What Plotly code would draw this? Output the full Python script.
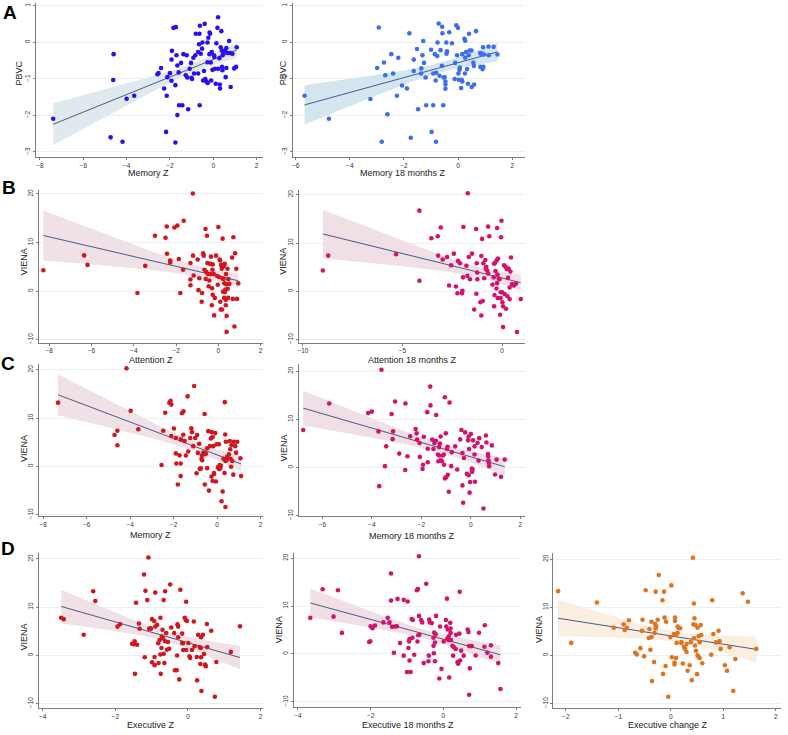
import numpy as np
import plotly.graph_objects as go

# ---- data: (z score, outcome) pairs per panel ----
a_mem = [(-7.39,-2.09),(-4.6,-0.32),(-4.62,-1.03),(-4.74,-2.6),(-4.19,-2.72),(-4.0,-1.54),(-3.65,-1.46),(-2.41,-0.7),(-2.58,-0.87),(-2.53,-0.84),
         (-2.27,-1.26),(-2.15,-1.46),(-2.18,-2.45),(-1.75,-2.74),(-2.12,-0.95),(-2.0,-0.84),(-1.93,-1.05),(-1.93,-0.47),(-1.91,-0.23),(-1.84,0.4),
         (-1.73,0.42),(-1.75,-1.17),(-1.7,-0.35),(-1.66,-1.99),(-1.6,-0.82),(-1.66,-0.63),(-1.58,-1.72),(-1.43,-1.72),(-1.49,-0.56),(-1.38,-0.32),
         (-1.27,-0.9),(-1.23,-0.35),(-1.2,-0.96),(-1.16,-1.83),(-1.09,-0.72),(-1.03,-0.56),(-1.01,-0.97),(-0.98,-1.0),(-0.92,-0.42),(-0.89,-0.85),
         (-0.83,-0.35),(-0.81,0.24),(-0.7,-0.26),(-0.7,-0.85),(-0.66,-0.05),(-0.64,0.24),(-0.62,0.46),(-0.63,-1.72),(-0.58,-0.31),(-0.52,-0.17),
         (-0.5,0.0),(-0.47,-1.04),(-0.43,-0.78),(-0.4,0.51),(-0.37,-1.0),(-0.32,-1.07),(-0.27,0.0),(-0.27,-0.54),(-0.26,-1.11),(-0.23,0.13),
         (-0.18,-0.32),(-0.17,0.27),(-0.12,-0.55),(-0.15,0.24),(-0.1,-1.04),(-0.07,-0.26),(-0.04,-0.75),(0.03,-0.35),(0.05,-0.4),(0.08,-0.72),
         (0.11,-1.13),(0.14,-0.02),(0.19,0.4),(0.22,0.69),(0.22,-0.72),(0.28,-0.43),(0.3,-1.15),(0.31,-1.26),(0.34,-0.13),(0.37,0.31),
         (0.39,-0.22),(0.4,-0.67),(0.43,-0.35),(0.42,-0.76),(0.46,-0.27),(0.53,-0.22),(0.57,-0.95),(0.6,-0.7),(0.6,-0.15),(0.65,-0.29),
         (0.73,0.04),(0.77,-0.29),(0.8,-1.22),(0.88,-0.31),(0.96,-0.71),(1.08,-0.13),(1.05,-0.67)]

a_mem18 = [(-5.67,-1.46),(-4.77,-2.09),(-2.93,0.41),(-2.99,-0.7),(-2.82,-2.72),(-3.24,-1.55),(-2.74,-0.55),(-2.69,-0.9),(-2.61,-1.97),(-2.47,-0.32),
           (-2.4,-0.85),(-2.26,-1.46),(-2.21,-0.42),(-2.07,-1.18),(-1.89,-1.26),(-1.8,0.25),(-1.75,-2.61),(-1.64,-0.47),(-1.64,-0.78),(-1.52,-0.18),
           (-1.48,-1.83),(-1.37,-0.85),(-1.36,-0.71),(-1.32,-0.35),(-1.29,0.04),(-1.26,-0.56),(-1.2,-0.96),(-1.18,-1.72),(-1.0,-0.2),(-0.98,-2.45),
           (-0.92,-1.72),(-0.92,-0.85),(-0.86,-0.32),(-0.83,-1.04),(-0.81,-0.83),(-0.82,-2.72),(-0.77,-0.37),(-0.76,0.0),(-0.72,0.52),(-0.69,-0.91),
           (-0.65,-0.21),(-0.6,-0.64),(-0.59,0.43),(-0.58,0.25),(-0.54,-0.96),(-0.55,-1.72),(-0.5,-0.95),(-0.47,-1.07),(-0.47,-1.15),(-0.47,-1.27),
           (-0.44,0.0),(-0.43,-0.31),(-0.41,-0.24),(-0.33,0.28),(-0.23,-0.02),(-0.13,-1.0),(-0.11,-0.56),(-0.07,0.47),(-0.04,-0.35),(-0.01,0.4),
           (0.01,-0.85),(0.02,-1.02),(0.05,-0.75),(0.06,-0.69),(0.11,-1.25),(0.13,-1.02),(0.15,-1.07),(0.15,-0.32),(0.23,0.1),(0.25,-0.85),
           (0.26,0.05),(0.26,-0.42),(0.29,-0.26),(0.33,-0.73),(0.36,-1.13),(0.39,-0.35),(0.4,0.24),(0.42,-0.22),(0.49,-0.22),(0.5,-1.22),
           (0.56,-0.55),(0.58,-0.64),(0.59,-1.15),(0.66,0.31),(0.81,-0.29),(0.85,-0.33),(0.82,-0.67),(0.87,-0.3),(0.9,-0.73),(0.92,-0.13),
           (0.93,-0.67),(0.96,-0.33),(1.12,-0.11),(1.13,-0.35),(1.31,-0.12),(1.45,-0.33)]

b_att = [(-8.28,4.3),(-6.35,7.35),(-6.19,5.4),(-3.83,-0.4),(-3.46,5.2),(-3.0,11.4),(-2.5,11.0),(-2.44,13.3),(-2.43,7.7),(-2.28,6.3),
         (-2.28,5.9),(-2.08,13.1),(-1.94,13.5),(-1.87,6.6),(-1.8,-0.4),(-1.67,4.4),(-1.64,14.5),(-1.32,1.2),(-1.32,2.4),(-1.32,5.8),
         (-1.21,20.1),(-1.2,7.3),(-1.17,3.2),(-0.98,6.5),(-0.94,0.2),(-0.9,2.65),(-0.79,-2.2),(-0.77,-0.4),(-0.72,7.8),(-0.69,7.3),
         (-0.66,4.4),(-0.61,12.8),(-0.6,2.5),(-0.57,3.9),(-0.54,11.4),(-0.52,5.8),(-0.49,3.5),(-0.46,1.0),(-0.43,2.2),(-0.39,5.6),
         (-0.38,3.5),(-0.35,7.1),(-0.31,-2.9),(-0.3,0.6),(-0.28,4.4),(-0.27,-0.75),(-0.27,5.5),(-0.22,3.5),(-0.2,-5.0),(-0.17,-1.4),
         (-0.11,7.3),(-0.06,3.1),(-0.03,1.3),(0.0,13.2),(0.03,2.9),(0.06,6.5),(0.08,6.3),(0.09,-2.2),(0.11,-3.8),(0.13,5.4),
         (0.16,4.6),(0.17,-3.8),(0.19,2.65),(0.2,10.8),(0.22,-0.1),(0.24,2.5),(0.25,5.1),(0.27,-1.4),(0.28,1.6),(0.3,5.6),
         (0.31,-0.2),(0.33,0.3),(0.35,-1.8),(0.35,-2.9),(0.36,3.5),(0.38,1.4),(0.39,-5.1),(0.39,-8.4),(0.43,4.6),(0.44,0.5),
         (0.46,-1.4),(0.47,2.5),(0.52,1.5),(0.65,6.9),(0.68,-1.6),(0.71,11.1),(0.76,-7.3),(0.79,7.8),(0.85,4.6),(0.88,-1.6),(0.94,1.6)]

b_att18 = [(-9.0,4.3),(-8.73,7.4),(-5.32,7.7),(-4.15,16.7),(-4.15,2.2),(-3.55,11.0),(-3.23,11.4),(-3.08,13.2),(-3.21,7.4),(-2.98,6.6),
           (-2.76,7.1),(-2.66,1.2),(-2.56,5.4),(-2.42,7.8),(-2.32,1.0),(-2.24,-0.4),(-2.21,6.3),(-2.11,5.8),(-2.01,-0.4),(-1.99,0.1),
           (-1.94,13.3),(-1.96,2.9),(-1.79,5.3),(-1.74,3.2),(-1.72,20.3),(-1.67,7.1),(-1.61,2.5),(-1.51,7.8),(-1.4,-3.75),(-1.3,12.9),
           (-1.29,-0.5),(-1.27,5.8),(-1.24,2.5),(-1.25,3.9),(-1.09,-2.25),(-1.04,7.3),(-1.04,-5.0),(-1.0,10.85),(-0.97,-2.0),(-0.94,5.8),
           (-0.9,2.7),(-0.84,6.5),(-0.82,4.7),(-0.79,5.1),(-0.75,4.3),(-0.7,13.4),(-0.7,3.7),(-0.64,11.4),(-0.48,1.4),(-0.42,2.9),
           (-0.4,5.7),(-0.4,-3.1),(-0.38,-0.75),(-0.35,5.9),(-0.33,4.2),(-0.28,0.6),(-0.27,6.4),(-0.25,1.7),(-0.25,13.1),(-0.23,3.5),
           (-0.22,-1.4),(-0.2,6.8),(-0.17,2.65),(-0.13,2.5),(-0.1,-4.85),(-0.07,-1.4),(-0.03,14.6),(-0.05,11.2),(-0.07,-0.2),(0.0,-0.2),
           (0.02,-2.25),(0.05,-3.1),(0.1,5.4),(0.13,-0.55),(0.17,5.1),(0.2,-3.6),(0.23,4.6),(0.27,-1.0),(0.3,2.8),(0.33,4.7),
           (0.38,0.8),(0.38,-1.6),(0.42,4.1),(0.45,7.0),(0.5,1.5),(0.59,1.2),(0.7,1.6),(0.75,-8.4),(0.94,-1.6),(0.05,-7.4)]

c_mem = [(-7.32,13.2),(-4.72,6.5),(-4.59,7.4),(-4.59,4.4),(-4.17,20.3),(-3.98,11.5),(-3.63,7.7),(-2.56,0.3),(-2.48,7.4),(-2.39,11.1),
         (-2.2,13.2),(-2.14,13.6),(-2.11,12.8),(-2.11,6.3),(-1.99,7.85),(-1.9,5.9),(-1.9,2.7),(-1.88,0.6),(-1.81,-3.75),(-1.73,2.3),
         (-1.68,0.6),(-1.68,-2.0),(-1.67,5.6),(-1.62,11.0),(-1.56,6.55),(-1.55,11.4),(-1.5,5.25),(-1.44,2.25),(-1.36,14.5),(-1.33,3.1),
         (-1.24,5.9),(-1.19,7.9),(-1.16,7.1),(-1.1,4.2),(-1.06,16.65),(-1.01,5.9),(-0.95,-1.4),(-0.92,6.5),(-0.89,2.8),(-0.83,4.7),
         (-0.8,-0.5),(-0.75,-0.4),(-0.72,1.6),(-0.7,2.3),(-0.69,1.3),(-0.63,2.9),(-0.61,2.5),(-0.58,10.85),(-0.57,-3.75),(-0.52,2.65),
         (-0.46,3.75),(-0.46,-0.35),(-0.41,7.3),(-0.38,-5.0),(-0.34,4.2),(-0.29,5.8),(-0.26,-2.1),(-0.25,7.1),(-0.21,6.1),(-0.21,-3.0),
         (-0.18,4.2),(-0.15,-1.35),(-0.14,-1.55),(-0.09,6.9),(-0.06,-3.1),(-0.03,4.6),(0.03,-0.2),(0.08,4.6),(0.09,-0.55),(0.12,0.3),
         (0.14,-0.35),(0.17,0.15),(0.2,-7.2),(0.25,-5.2),(0.29,1.6),(0.34,-1.35),(0.35,13.3),(0.37,6.6),(0.38,1.15),(0.4,5.1),
         (0.43,1.3),(0.46,2.0),(0.54,2.5),(0.58,5.25),(0.6,3.55),(0.61,1.6),(0.64,-0.05),(0.66,4.45),(0.69,1.15),(0.74,-1.7),
         (0.77,5.1),(0.83,4.2),(0.87,2.85),(0.92,5.1),(1.07,1.7),(1.1,-2.0),(0.38,-8.4)]

c_mem18 = [(-6.77,7.8),(-5.72,13.3),(-4.15,11.3),(-4.0,11.6),(-3.73,7.5),(-3.7,-3.85),(-3.61,20.3),(-3.47,0.3),(-3.42,4.4),(-3.2,11.1),
           (-3.16,5.9),(-3.14,7.5),(-3.06,13.7),(-2.89,2.9),(-2.65,-0.5),(-2.64,13.3),(-2.56,2.35),(-2.45,6.5),(-2.23,8.0),(-2.19,7.1),
           (-2.17,5.8),(-2.07,5.1),(-2.06,2.2),(-1.95,-0.3),(-1.93,0.6),(-1.9,6.4),(-1.76,11.5),(-1.74,1.1),(-1.74,3.9),(-1.64,16.8),
           (-1.63,12.9),(-1.56,5.8),(-1.51,3.85),(-1.47,5.1),(-1.41,5.55),(-1.4,10.9),(-1.33,2.7),(-1.31,1.3),(-1.28,4.25),(-1.28,2.5),
           (-1.25,5.0),(-1.22,6.45),(-1.21,1.5),(-1.17,1.3),(-1.13,2.5),(-1.09,2.7),(-1.08,0.6),(-1.05,14.6),(-1.05,-2.25),(-1.01,7.1),
           (-1.0,-2.0),(-0.96,3.85),(-0.94,4.3),(-0.93,-1.5),(-0.89,-5.0),(-0.86,13.5),(-0.79,0.3),(-0.77,3.2),(-0.63,4.4),(-0.55,-0.4),
           (-0.43,5.85),(-0.38,7.8),(-0.34,3.0),(-0.34,-3.7),(-0.28,2.0),(-0.23,7.3),(-0.16,-1.3),(-0.11,5.65),(-0.09,6.45),(-0.09,-1.6),
           (-0.07,3.85),(-0.05,-5.2),(-0.03,-3.0),(0.0,6.95),(0.04,-0.2),(0.05,-0.9),(0.07,-0.4),(0.09,5.65),(0.15,2.7),(0.15,4.4),
           (0.17,-2.95),(0.27,5.1),(0.31,1.45),(0.34,6.1),(0.44,4.25),(0.61,6.65),(0.63,5.2),(0.69,2.8),(0.7,2.35),(0.71,1.5),
           (0.73,1.0),(0.74,0.3),(0.85,4.6),(0.98,-1.45),(1.04,1.65),(1.22,-1.9),(1.37,1.65),(-0.31,-7.3),(0.51,-8.5)]

d_exe = [(-3.49,7.8),(-3.42,7.5),(-2.87,4.25),(-2.61,13.3),(-2.55,11.25),(-1.94,5.95),(-1.87,6.45),(-1.54,2.4),(-1.49,2.3),(-1.47,2.9),
         (-1.46,-3.85),(-1.43,10.9),(-1.4,2.2),(-1.35,6.6),(-1.33,5.5),(-1.21,16.75),(-1.19,-0.4),(-1.17,13.4),(-1.12,11.45),(-1.09,20.3),
         (-1.07,5.5),(-1.03,5.6),(-1.02,5.5),(-0.99,7.5),(-0.99,-1.45),(-0.93,7.1),(-0.92,-0.35),(-0.92,-2.05),(-0.9,13.0),(-0.9,5.95),
         (-0.85,6.3),(-0.82,2.5),(-0.81,-1.6),(-0.78,3.15),(-0.76,7.8),(-0.76,0.15),(-0.75,-3.85),(-0.73,1.5),(-0.72,3.9),(-0.7,5.3),
         (-0.69,3.55),(-0.67,11.45),(-0.67,0.3),(-0.65,-1.6),(-0.63,2.9),(-0.63,13.3),(-0.6,4.6),(-0.58,1.15),(-0.55,2.75),(-0.52,1.35),
         (-0.49,14.7),(-0.46,5.75),(-0.38,4.6),(-0.36,-3.1),(-0.31,-3.1),(-0.3,-0.05),(-0.29,6.45),(-0.27,5.95),(-0.27,3.75),(-0.24,-5.0),
         (-0.21,13.6),(-0.16,4.5),(-0.16,2.55),(-0.14,2.5),(-0.13,1.1),(-0.09,7.8),(-0.06,7.3),(-0.05,11.1),(-0.05,1.1),(-0.03,7.1),
         (0.01,2.55),(0.04,-0.2),(0.06,-0.55),(0.11,1.1),(0.16,7.0),(0.18,1.85),(0.24,-0.35),(0.25,-5.2),(0.28,4.25),(0.32,1.7),
         (0.34,-1.8),(0.35,1.5),(0.36,3.75),(0.36,-0.4),(0.37,-7.4),(0.41,4.25),(0.44,0.27),(0.47,-1.9),(0.49,-2.25),(0.52,6.5),
         (0.53,1.7),(0.64,5.1),(0.74,-8.6),(0.78,-1.4),(1.18,0.7),(1.43,6.0)]

d_exe18 = [(-3.66,7.55),(-3.32,13.5),(-3.02,7.8),(-2.9,13.3),(-2.79,4.4),(-2.04,2.5),(-2.0,5.8),(-2.01,2.65),(-1.95,5.4),(-1.88,5.95),
           (-1.65,6.6),(-1.53,7.55),(-1.48,6.6),(-1.44,16.8),(-1.44,11.15),(-1.41,5.7),(-1.36,0.27),(-1.33,5.75),(-1.26,11.5),(-1.28,5.8),
           (-1.19,2.3),(-1.09,11.3),(-1.09,-0.35),(-1.0,-3.75),(-0.98,10.95),(-0.96,1.25),(-0.94,2.6),(-0.93,3.1),(-0.93,-1.35),(-0.9,-3.75),
           (-0.87,7.3),(-0.85,3.4),(-0.84,7.1),(-0.8,-0.15),(-0.73,13.3),(-0.7,13.55),(-0.71,2.6),(-0.69,3.9),(-0.67,20.4),(-0.67,7.95),
           (-0.66,4.0),(-0.61,7.1),(-0.58,6.6),(-0.54,-1.9),(-0.47,14.65),(-0.41,-1.5),(-0.4,-0.35),(-0.39,7.2),(-0.37,6.6),(-0.32,6.45),
           (-0.27,3.4),(-0.27,1.7),(-0.26,0.15),(-0.25,4.5),(-0.23,2.4),(-0.23,-1.5),(-0.21,4.1),(-0.2,7.95),(-0.11,-5.1),(-0.09,5.75),
           (-0.05,-3.1),(0.01,2.6),(0.07,7.1),(0.08,5.75),(0.1,11.55),(0.11,3.2),(0.12,5.1),(0.14,2.9),(0.15,3.7),(0.16,-4.9),
           (0.19,6.5),(0.2,5.3),(0.2,4.4),(0.21,2.9),(0.25,1.7),(0.27,-0.35),(0.29,1.4),(0.34,1.05),(0.35,4.0),(0.39,-1.7),
           (0.41,-2.05),(0.44,4.25),(0.45,13.0),(0.46,-1.35),(0.49,0.7),(0.56,-0.35),(0.67,5.1),(0.69,4.6),(0.71,1.65),(0.71,-8.5),
           (0.78,1.65),(0.73,-3.0),(0.89,-0.3),(0.98,4.45),(1.13,1.5),(1.14,6.0),(1.21,0.27),(1.31,1.8),(1.31,-0.55),(1.51,-1.9),(1.57,-7.3)]

d_exechg = [(-2.15,13.35),(-1.9,2.6),(-1.41,11.0),(-1.09,5.75),(-0.9,6.45),(-0.88,5.3),(-0.84,5.75),(-0.8,7.3),(-0.68,0.55),(-0.65,0.2),
            (-0.58,1.5),(-0.55,5.1),(-0.54,7.4),(-0.51,-0.2),(-0.48,13.55),(-0.42,3.6),(-0.41,5.5),(-0.39,1.15),(-0.37,7.0),(-0.37,3.8),
            (-0.36,-5.35),(-0.32,-1.4),(-0.31,4.65),(-0.3,6.5),(-0.29,13.25),(-0.29,5.6),(-0.28,6.05),(-0.25,7.4),(-0.23,16.7),(-0.16,11.45),
            (-0.15,-3.85),(-0.13,13.25),(-0.12,7.85),(-0.1,-2.2),(-0.09,7.0),(-0.05,-8.6),(-0.01,3.8),(0.01,14.55),(0.02,-0.4),(0.06,4.45),
            (0.07,-1.5),(0.07,-1.9),(0.08,7.85),(0.08,7.15),(0.1,-0.55),(0.1,4.35),(0.11,2.6),(0.13,4.65),(0.13,6.0),(0.15,5.65),
            (0.18,5.65),(0.2,2.75),(0.2,2.6),(0.23,-1.7),(0.25,1.8),(0.27,1.35),(0.3,2.35),(0.3,0.7),(0.32,-3.2),(0.36,-2.05),
            (0.38,2.75),(0.4,-5.15),(0.42,20.3),(0.43,6.45),(0.44,3.55),(0.44,10.8),(0.45,7.7),(0.46,2.05),(0.47,6.3),(0.48,0.95),
            (0.5,-3.9),(0.51,5.75),(0.51,0.0),(0.53,4.0),(0.53,-0.35),(0.55,-0.55),(0.55,2.75),(0.57,6.3),(0.58,4.25),(0.6,-1.65),
            (0.77,0.15),(0.79,11.45),(0.81,4.45),(0.86,2.7),(0.91,5.1),(0.93,3.0),(0.95,1.35),(1.03,-2.05),(1.07,-3.2),(1.12,1.7),
            (1.19,-7.4),(1.23,-0.75),(1.37,12.9),(1.47,11.15),(1.63,1.35)]

FONT = "Liberation Sans, Arial, sans-serif"
W, H = 788, 735
LINE = "#4b5b86"
AXIS = "#7d7d7d"
GRID = "#e9eff3"

# box = (left, right, top, bottom) in pixels, cal = (v1, px1, v2, px2)
panels = [
    dict(pts=a_mem, mk="#2a10ee", band="#dfe9ee", box=(35, 262, 2, 157), xcal=(-8, 39, 2, 256), ycal=(1, 5, -3, 152),
         xt=[-8, -6, -4, -2, 0, 2], yt=[-3, -2, -1, 0, 1], xtitle="Memory Z", ytitle="PBVC", xpos=(148, 173), ypos=(18, 72)),
    dict(pts=a_mem18, mk="#3c6ef0", band="#d3e5ef", box=(292, 525, 2, 157), xcal=(-6, 295, 2, 512), ycal=(1, 5, -3, 152),
         xt=[-6, -4, -2, 0, 2], yt=[-3, -2, -1, 0, 1], xtitle="Memory 18 months Z", ytitle="PBVC", xpos=(403, 173), ypos=(282, 72)),
    dict(pts=b_att, mk="#d0161f", band="#efe1e5", box=(38, 262, 190, 344), xcal=(-8, 48.3, 2, 260), ycal=(20, 194.3, -10, 341),
         xt=[-8, -6, -4, -2, 0, 2], yt=[-10, 0, 10, 20], xtitle="Attention Z", ytitle="VIENA", xpos=(150, 361), ypos=(23, 262)),
    dict(pts=b_att18, mk="#d3126c", band="#f1dfe6", box=(298, 525, 190, 344), xcal=(-10, 302.3, 0, 501.7), ycal=(20, 195, -10, 341),
         xt=[-10, -5, 0], yt=[-10, 0, 10, 20], xtitle="Attention 18 months Z", ytitle="VIENA", xpos=(412, 361), ypos=(283, 262)),
    dict(pts=c_mem, mk="#d0161f", band="#efe1e5", box=(38, 262, 365, 519), xcal=(-8, 42.3, 2, 260), ycal=(20, 371.3, -10, 517.3),
         xt=[-8, -6, -4, -2, 0, 2], yt=[-10, 0, 10, 20], xtitle="Memory Z", ytitle="VIENA", xpos=(150, 538), ypos=(23, 450)),
    dict(pts=c_mem18, mk="#d3126c", band="#f1dfe6", box=(298, 525, 365, 519), xcal=(-6, 321.7, 2, 520), ycal=(20, 372.7, -10, 518.3),
         xt=[-6, -4, -2, 0, 2], yt=[-10, 0, 10, 20], xtitle="Memory 18 months Z", ytitle="VIENA", xpos=(412, 539), ypos=(283, 450)),
    dict(pts=d_exe, mk="#d0161f", band="#efe1e5", box=(38, 262, 556, 712), xcal=(-4, 41.7, 2, 260), ycal=(20, 561.7, -10, 707.3),
         xt=[-4, -2, 0, 2], yt=[-10, 0, 10, 20], xtitle="Executive Z", ytitle="VIENA", xpos=(150, 729), ypos=(23, 640)),
    dict(pts=d_exe18, mk="#d3126c", band="#f1dfe6", box=(293, 521, 556, 711), xcal=(-4, 297.3, 2, 515.7), ycal=(20, 561, -10, 705.7),
         xt=[-4, -2, 0, 2], yt=[-10, 0, 10, 20], xtitle="Executive 18 months Z", ytitle="VIENA", xpos=(408, 729), ypos=(278, 633)),
    dict(pts=d_exechg, mk="#e1731f", band="#f9eee0", box=(553, 781, 556, 712), xcal=(-2, 565.7, 2, 775.7), ycal=(20, 562, -10, 707.3),
         xt=[-2, -1, 0, 1, 2], yt=[-10, 0, 10, 20], xtitle="Executive change Z", ytitle="VIENA", xpos=(668, 729), ypos=(538, 633)),
]


def px_to_val(p, cal):
    v1, p1, v2, p2 = cal
    return v1 + (p - p1) * (v2 - v1) / (p2 - p1)


fig = go.Figure()
annotations = []
layout = {}

for i, pn in enumerate(panels, start=1):
    xs = np.array([p[0] for p in pn["pts"]])
    ys = np.array([p[1] for p in pn["pts"]])
    n = len(xs)
    # linear fit with 95% CI (as Stata lfitci)
    b, a = np.polyfit(xs, ys, 1)
    resid = ys - (a + b * xs)
    s = np.sqrt(np.sum(resid ** 2) / (n - 2))
    sxx = np.sum((xs - xs.mean()) ** 2)
    gx = np.linspace(xs.min(), xs.max(), 80)
    gy = a + b * gx
    se = s * np.sqrt(1.0 / n + (gx - xs.mean()) ** 2 / sxx)
    up, lo = gy + 1.984 * se, gy - 1.984 * se

    xa, ya = f"x{i}", f"y{i}"
    fig.add_trace(go.Scatter(x=np.concatenate([gx, gx[::-1]]), y=np.concatenate([up, lo[::-1]]),
                             fill="toself", fillcolor=pn["band"], line=dict(width=0), mode="lines",
                             hoverinfo="skip", xaxis=xa, yaxis=ya))
    fig.add_trace(go.Scatter(x=gx, y=gy, mode="lines", line=dict(color=LINE, width=1), xaxis=xa, yaxis=ya))
    fig.add_trace(go.Scatter(x=xs, y=ys, mode="markers", marker=dict(color=pn["mk"], size=4.6), xaxis=xa, yaxis=ya))

    l, r, t, btm = pn["box"]
    xr = [px_to_val(l, pn["xcal"]), px_to_val(r, pn["xcal"])]
    yr = [px_to_val(btm, pn["ycal"]), px_to_val(t, pn["ycal"])]
    sfx = "" if i == 1 else str(i)
    layout["xaxis" + sfx] = dict(domain=[l / W, r / W], range=xr, anchor=ya, tickvals=pn["xt"],
                                 showline=True, linecolor=AXIS, linewidth=1, ticks="outside", ticklen=2,
                                 tickcolor=AXIS, tickfont=dict(size=6.5, color="#333"), showgrid=False,
                                 zeroline=False)
    layout["yaxis" + sfx] = dict(domain=[1 - btm / H, 1 - t / H], range=yr, anchor=xa, tickvals=pn["yt"],
                                 showline=True, linecolor=AXIS, linewidth=1, ticks="outside", ticklen=2,
                                 tickcolor=AXIS, tickfont=dict(size=6.5, color="#333"), tickangle=-90,
                                 showgrid=True, gridcolor=GRID, gridwidth=1, zeroline=False)
    annotations.append(dict(x=pn["xpos"][0] / W, y=1 - pn["xpos"][1] / H, xref="paper", yref="paper",
                            xanchor="center", yanchor="middle",
                            text=pn["xtitle"], showarrow=False, font=dict(size=9, color="#222")))
    annotations.append(dict(x=pn["ypos"][0] / W, y=1 - pn["ypos"][1] / H, xref="paper", yref="paper",
                            xanchor="center", yanchor="middle",
                            text=pn["ytitle"], showarrow=False, textangle=-90, font=dict(size=9, color="#222")))

for letter, (lx, ly) in zip(["A", "B", "C", "D"], [(9, 12), (8, 188), (7, 365), (7, 551)]):
    annotations.append(dict(x=lx / W, y=1 - ly / H, xref="paper", yref="paper", text=f"<b>{letter}</b>",
                            xanchor="center", yanchor="middle",
                            showarrow=False, font=dict(size=19, color="#000")))

fig.update_layout(**layout)
fig.update_layout(
    width=W, height=H,
    margin=dict(l=0, r=0, t=0, b=0),
    paper_bgcolor="white", plot_bgcolor="white",
    showlegend=False,
    font=dict(family=FONT),
    annotations=annotations,
)

fig.write_html("out.html", config={"displayModeBar": False},
               post_script="document.body.style.margin='0px';document.body.style.overflow='hidden';")
